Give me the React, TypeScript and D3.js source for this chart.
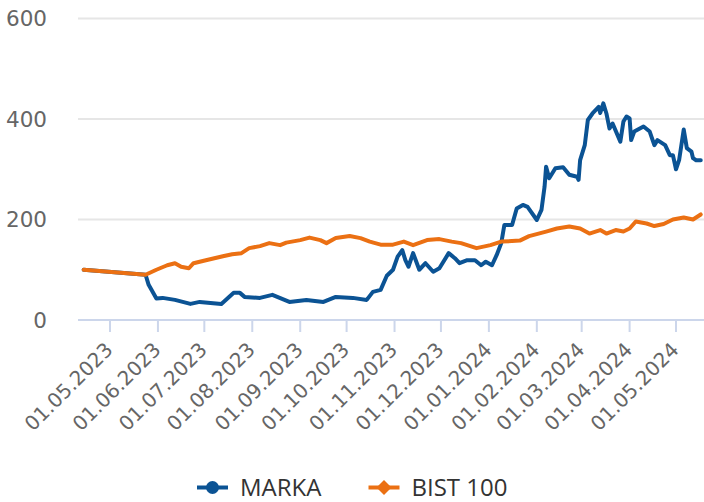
import * as d3 from 'd3';

// MARKA vs BIST 100 (rebased to 100)
const markaDates = [
  '14.04.2023', '24.05.2023', '26.05.2023', '31.05.2023', '04.06.2023', '12.06.2023', '22.06.2023',
  '28.06.2023', '12.07.2023', '20.07.2023', '24.07.2023', '27.07.2023', '06.08.2023', '14.08.2023',
  '25.08.2023', '05.09.2023', '16.09.2023', '24.09.2023', '05.10.2023', '14.10.2023', '18.10.2023',
  '23.10.2023', '27.10.2023', '31.10.2023', '03.11.2023', '06.11.2023', '08.11.2023', '10.11.2023',
  '13.11.2023', '17.11.2023', '21.11.2023', '26.11.2023', '30.11.2023', '06.12.2023', '10.12.2023',
  '13.12.2023', '18.12.2023', '23.12.2023', '27.12.2023', '30.12.2023', '03.01.2024', '06.01.2024',
  '09.01.2024', '11.01.2024', '16.01.2024', '19.01.2024', '23.01.2024', '26.01.2024', '01.02.2024',
  '04.02.2024', '06.02.2024', '07.02.2024', '09.02.2024', '13.02.2024', '18.02.2024', '22.02.2024',
  '27.02.2024', '28.02.2024', '29.02.2024', '03.03.2024', '05.03.2024', '08.03.2024', '12.03.2024',
  '13.03.2024', '15.03.2024', '17.03.2024', '19.03.2024', '21.03.2024', '26.03.2024', '28.03.2024',
  '30.03.2024', '01.04.2024', '02.04.2024', '04.04.2024', '10.04.2024', '14.04.2024', '17.04.2024',
  '19.04.2024', '24.04.2024', '27.04.2024', '29.04.2024', '01.05.2024', '03.05.2024', '06.05.2024',
  '08.05.2024', '11.05.2024', '12.05.2024', '14.05.2024', '17.05.2024',
];
const markaValues = [
  100, 90, 70, 43, 44, 40, 32,
  36, 32, 54, 54, 46, 44, 50,
  36, 40, 36, 46, 44, 40, 56,
  60, 88, 100, 126, 139, 119, 106,
  133, 100, 113, 96, 103, 133, 123,
  113, 119, 119, 109, 116, 109, 129,
  153, 189, 189, 222, 229, 225, 199,
  219, 265, 305, 282, 302, 304, 289,
  285, 279, 318, 348, 398, 411, 424,
  412, 431, 411, 381, 391, 355, 395,
  405, 401, 358, 375, 385, 375, 348,
  358, 348, 328, 328, 300, 318, 379,
  342, 335, 322, 318, 318,
];

const bistDates = [
  '14.04.2023', '24.05.2023', '31.05.2023', '07.06.2023', '12.06.2023', '16.06.2023', '21.06.2023',
  '24.06.2023', '02.07.2023', '13.07.2023', '19.07.2023', '25.07.2023', '30.07.2023', '06.08.2023',
  '12.08.2023', '19.08.2023', '23.08.2023', '01.09.2023', '07.09.2023', '14.09.2023', '18.09.2023',
  '24.09.2023', '03.10.2023', '10.10.2023', '16.10.2023', '23.10.2023', '31.10.2023', '07.11.2023',
  '13.11.2023', '22.11.2023', '30.11.2023', '08.12.2023', '14.12.2023', '24.12.2023', '02.01.2024',
  '09.01.2024', '21.01.2024', '27.01.2024', '07.02.2024', '14.02.2024', '22.02.2024', '29.02.2024',
  '06.03.2024', '13.03.2024', '17.03.2024', '23.03.2024', '28.03.2024', '01.04.2024', '05.04.2024',
  '12.04.2024', '17.04.2024', '23.04.2024', '29.04.2024', '06.05.2024', '12.05.2024', '17.05.2024',
];
const bistValues = [
  100, 90, 100, 109, 113, 106, 103,
  113, 119, 127, 131, 133, 143, 147,
  153, 149, 154, 159, 164, 159, 153,
  163, 167, 163, 156, 150, 150, 156,
  149, 159, 161, 156, 153, 143, 149,
  156, 158, 167, 176, 182, 186, 182,
  172, 179, 172, 179, 176, 182, 196,
  192, 187, 191, 200, 204, 200, 210,
];

const xTickLabels = [
  '01.05.2023', '01.06.2023', '01.07.2023', '01.08.2023', '01.09.2023', '01.10.2023', '01.11.2023',
  '01.12.2023', '01.01.2024', '01.02.2024', '01.03.2024', '01.04.2024', '01.05.2024',
];
const yTicks = [0, 200, 400, 600];

const series = [
  { name: 'MARKA', color: '#0b5394', dates: markaDates, values: markaValues, symbol: 'circle' },
  { name: 'BIST 100', color: '#eb7013', dates: bistDates, values: bistValues, symbol: 'diamond' },
];

const parse = d3.utcParse('%d.%m.%Y');

export default function App() {
  const width = 704;
  const height = 502;
  const plotLeft = 78;
  const plotRight = 704;

  // month ticks sit at fixed spacing, so anchor the time scale on the first and last tick
  const x0 = d3.scaleUtc()
    .domain([parse('01.05.2023'), parse('01.05.2024')])
    .range([110, 676]);
  const x = d3.scaleUtc()
    .domain([x0.invert(plotLeft), x0.invert(plotRight)])
    .range([plotLeft, plotRight]);

  const y = d3.scaleLinear().domain([0, 600]).range([320, 18.5]);

  const line = d3.line<[Date, number]>()
    .x(d => x(d[0]))
    .y(d => y(d[1]));

  const axisFont = '"DejaVu Sans", Verdana, sans-serif';

  return (
    <div style={{ position: 'absolute', left: 0, top: 0 }}>
      <svg width={width} height={height} style={{ display: 'block', background: '#fff' }}>
        {/* grid */}
        {yTicks.filter(t => t > 0).map(t => (
          <line key={t} x1={plotLeft} x2={plotRight} y1={y(t)} y2={y(t)} stroke="#e6e6e6" strokeWidth={2} />
        ))}
        {/* y labels */}
        {yTicks.map(t => (
          <text key={t} x={47} y={y(t)} dy="0.36em" textAnchor="end" fontFamily={axisFont}
            fontSize={21.5} fill="#666666">{t}</text>
        ))}
        {/* x axis */}
        <line x1={plotLeft} x2={plotRight} y1={y(0)} y2={y(0)} stroke="#ccd6eb" strokeWidth={2} />
        {xTickLabels.map(l => {
          const tx = x(parse(l));
          return (
            <g key={l}>
              <line x1={tx} x2={tx} y1={y(0)} y2={y(0) + 12} stroke="#ccd6eb" strokeWidth={2} />
              <text transform={`translate(${tx + 4},${y(0) + 31}) rotate(-45)`} textAnchor="end"
                fontFamily={axisFont} fontSize={20} fill="#666666">{l}</text>
            </g>
          );
        })}
        {/* lines */}
        {series.map(s => (
          <path key={s.name}
            d={line(s.dates.map((d, i) => [parse(d), s.values[i]]))}
            fill="none" stroke={s.color} strokeWidth={4} strokeLinejoin="round" strokeLinecap="round" />
        ))}
        {/* legend */}
        {series.map((s, i) => {
          const lx = i === 0 ? 197 : 368.5;
          const ly = 487.5;
          return (
            <g key={s.name}>
              <line x1={lx} x2={lx + 31} y1={ly} y2={ly} stroke={s.color} strokeWidth={4} />
              {s.symbol === 'circle'
                ? <circle cx={lx + 15.5} cy={ly} r={6.5} fill={s.color} />
                : <path d={`M${lx + 15.5},${ly - 7.5}L${lx + 23},${ly}L${lx + 15.5},${ly + 7.5}L${lx + 8},${ly}Z`} fill={s.color} />}
              <text x={lx + 43} y={ly + 8} fontFamily='"Open Sans", sans-serif' fontSize={24}
                fill="#333333">{s.name}</text>
            </g>
          );
        })}
      </svg>
    </div>
  );
}
